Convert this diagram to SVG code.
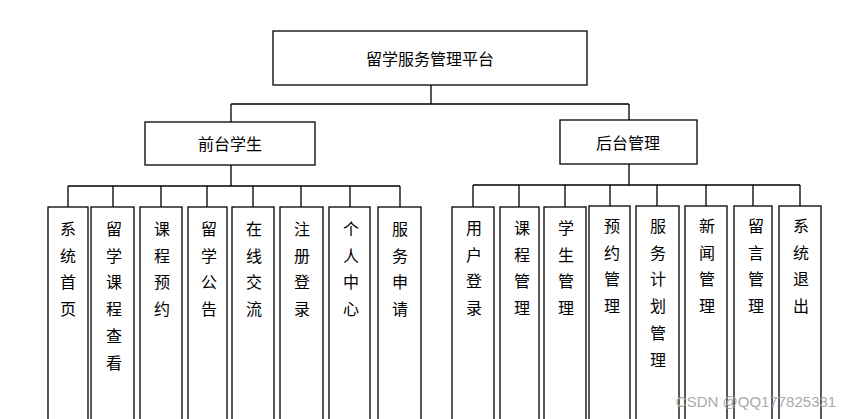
<svg xmlns="http://www.w3.org/2000/svg" width="858" height="419" viewBox="0 0 858 419">
<style>
rect{fill:#fff;stroke:#000;stroke-width:1.3}
.c path{fill:none;stroke:#000;stroke-width:1.3}
text{font-family:"Noto Sans CJK SC","Noto Sans CJK JP",sans-serif;font-size:16px;fill:#000;text-anchor:middle}
.v{dominant-baseline:central}
</style>
<rect x="0" y="0" width="858" height="419" style="fill:#fff;stroke:none"/>
<g class="c">
<path d="M431 85V104M231 104H629M231 104V122M629 104V120"/>
<path d="M231 165V186M68 186H400M68 186V207M113 186V207M161 186V207M207 186V207M253 186V207M301 186V207M350 186V207M400 186V207"/>
<path d="M629 164V185M473 185H800M473 185V207M519 185V207M565 185V207M610 185V207M657 185V207M706 185V207M753 185V207M800 185V207"/>
</g>
<g id="root"><rect x="273" y="31" width="314" height="54"/><text x="430" y="58" class="v">留学服务管理平台</text></g>
<g id="front"><rect x="145" y="122" width="170" height="43"/><text x="230" y="143" class="v">前台学生</text></g>
<g id="back"><rect x="560" y="120" width="137" height="44"/><text x="628" y="142" class="v">后台管理</text></g>
<g id="n1"><rect x="48" y="207" width="40" height="220"/><text x="68" y="228" class="v"><tspan x="68">系</tspan><tspan x="68" dy="26.7">统</tspan><tspan x="68" dy="26.7">首</tspan><tspan x="68" dy="26.7">页</tspan></text></g>
<g id="n2"><rect x="91" y="207" width="43" height="220"/><text x="114" y="228" class="v"><tspan x="114">留</tspan><tspan x="114" dy="26.7">学</tspan><tspan x="114" dy="26.7">课</tspan><tspan x="114" dy="26.7">程</tspan><tspan x="114" dy="26.7">查</tspan><tspan x="114" dy="26.7">看</tspan></text></g>
<g id="n3"><rect x="140" y="207" width="42" height="220"/><text x="162" y="228" class="v"><tspan x="162">课</tspan><tspan x="162" dy="26.7">程</tspan><tspan x="162" dy="26.7">预</tspan><tspan x="162" dy="26.7">约</tspan></text></g>
<g id="n4"><rect x="188" y="207" width="39" height="220"/><text x="209" y="228" class="v"><tspan x="209">留</tspan><tspan x="209" dy="26.7">学</tspan><tspan x="209" dy="26.7">公</tspan><tspan x="209" dy="26.7">告</tspan></text></g>
<g id="n5"><rect x="232" y="207" width="42" height="220"/><text x="254" y="228" class="v"><tspan x="254">在</tspan><tspan x="254" dy="26.7">线</tspan><tspan x="254" dy="26.7">交</tspan><tspan x="254" dy="26.7">流</tspan></text></g>
<g id="n6"><rect x="280" y="207" width="43" height="220"/><text x="302" y="228" class="v"><tspan x="302">注</tspan><tspan x="302" dy="26.7">册</tspan><tspan x="302" dy="26.7">登</tspan><tspan x="302" dy="26.7">录</tspan></text></g>
<g id="n7"><rect x="329" y="207" width="41" height="220"/><text x="351" y="228" class="v"><tspan x="351">个</tspan><tspan x="351" dy="26.7">人</tspan><tspan x="351" dy="26.7">中</tspan><tspan x="351" dy="26.7">心</tspan></text></g>
<g id="n8"><rect x="378" y="207" width="43" height="220"/><text x="400" y="228" class="v"><tspan x="400">服</tspan><tspan x="400" dy="26.7">务</tspan><tspan x="400" dy="26.7">申</tspan><tspan x="400" dy="26.7">请</tspan></text></g>
<g id="m1"><rect x="452" y="207" width="42" height="220"/><text x="474" y="227" class="v"><tspan x="474">用</tspan><tspan x="474" dy="26.7">户</tspan><tspan x="474" dy="26.7">登</tspan><tspan x="474" dy="26.7">录</tspan></text></g>
<g id="m2"><rect x="500" y="207" width="39" height="220"/><text x="522" y="227" class="v"><tspan x="522">课</tspan><tspan x="522" dy="26.7">程</tspan><tspan x="522" dy="26.7">管</tspan><tspan x="522" dy="26.7">理</tspan></text></g>
<g id="m3"><rect x="544" y="207" width="42" height="220"/><text x="566" y="227" class="v"><tspan x="566">学</tspan><tspan x="566" dy="26.7">生</tspan><tspan x="566" dy="26.7">管</tspan><tspan x="566" dy="26.7">理</tspan></text></g>
<g id="m4"><rect x="589" y="206" width="41" height="220"/><text x="612" y="225" class="v"><tspan x="612">预</tspan><tspan x="612" dy="26.7">约</tspan><tspan x="612" dy="26.7">管</tspan><tspan x="612" dy="26.7">理</tspan></text></g>
<g id="m5"><rect x="636" y="206" width="43" height="220"/><text x="658" y="225" class="v"><tspan x="658">服</tspan><tspan x="658" dy="26.7">务</tspan><tspan x="658" dy="26.7">计</tspan><tspan x="658" dy="26.7">划</tspan><tspan x="658" dy="26.7">管</tspan><tspan x="658" dy="26.7">理</tspan></text></g>
<g id="m6"><rect x="685" y="206" width="42" height="220"/><text x="707" y="225" class="v"><tspan x="707">新</tspan><tspan x="707" dy="26.7">闻</tspan><tspan x="707" dy="26.7">管</tspan><tspan x="707" dy="26.7">理</tspan></text></g>
<g id="m7"><rect x="734" y="206" width="38" height="220"/><text x="756" y="225" class="v"><tspan x="756">留</tspan><tspan x="756" dy="26.7">言</tspan><tspan x="756" dy="26.7">管</tspan><tspan x="756" dy="26.7">理</tspan></text></g>
<g id="m8"><rect x="779" y="206" width="42" height="220"/><text x="801" y="225" class="v"><tspan x="801">系</tspan><tspan x="801" dy="26.7">统</tspan><tspan x="801" dy="26.7">退</tspan><tspan x="801" dy="26.7">出</tspan></text></g>
<text x="756" y="407" style="font-family:'Liberation Sans',sans-serif;font-size:15px;fill:#aaa">CSDN @QQ177825331</text>
</svg>
